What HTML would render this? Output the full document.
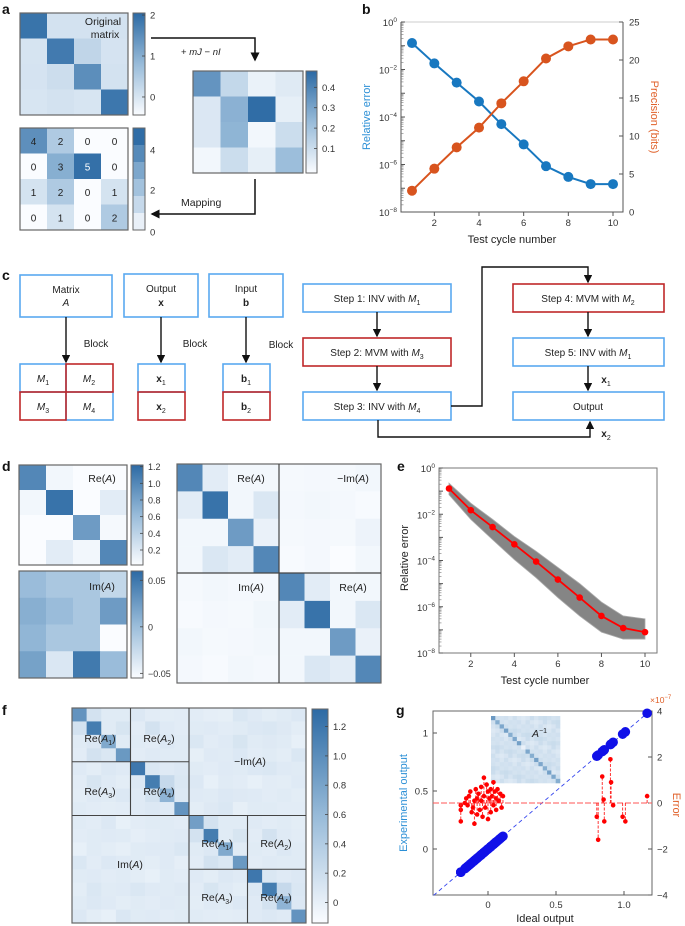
<!DOCTYPE html>
<html><head><meta charset="utf-8"><style>
html,body{margin:0;padding:0;background:#fff}
svg{display:block;font-family:"Liberation Sans",sans-serif}
</style></head><body>
<svg id="fig" width="685" height="926" viewBox="0 0 685 926" xmlns="http://www.w3.org/2000/svg">
<defs>
<linearGradient id="cmap" x1="0" y1="1" x2="0" y2="0">
<stop offset="0" stop-color="#fafcff"/><stop offset="0.5" stop-color="#98bbd9"/><stop offset="1" stop-color="#2c6aa4"/>
</linearGradient>
<marker id="ah" markerWidth="6" markerHeight="6" refX="5" refY="3" orient="auto"><path d="M0,0 L6,3 L0,6 z" fill="#111"/></marker>
</defs>
<g font-weight="bold" font-size="14" fill="#111">
<text x="2" y="14">a</text>
<text x="362" y="14">b</text>
<text x="2" y="280">c</text>
<text x="2" y="471">d</text>
<text x="397" y="471">e</text>
<text x="2" y="715">f</text>
<text x="396" y="715">g</text>
</g>
<g id="pa"></g>
<g font-size="10" fill="#222">
<text x="103" y="25" text-anchor="middle" font-size="10.5">Original</text>
<text x="105" y="38" text-anchor="middle" font-size="10.5">matrix</text>
<path d="M151,38 H255 V60" fill="none" stroke="#111" stroke-width="1.5" marker-end="url(#ah)"/>
<text x="181" y="55" font-size="9.5">+ <tspan font-style="italic">mJ</tspan> − <tspan font-style="italic">nI</tspan></text>
<path d="M255,179 V214 H152" fill="none" stroke="#111" stroke-width="1.5" marker-end="url(#ah)"/>
<text x="181" y="206" font-size="10.5">Mapping</text>
</g>
<g id="pb"></g>
<g font-size="10" fill="#222" text-anchor="middle">
<rect x="20" y="275" width="92" height="42" fill="none" stroke="#5aa9f0" stroke-width="1.6"/>
<text x="66" y="293">Matrix</text><text x="66" y="306" font-style="italic">A</text>
<rect x="124" y="274" width="74" height="43" fill="none" stroke="#5aa9f0" stroke-width="1.6"/>
<text x="161" y="292">Output</text><text x="161" y="306" font-weight="bold">x</text>
<rect x="209" y="274" width="74" height="43" fill="none" stroke="#5aa9f0" stroke-width="1.6"/>
<text x="246" y="292">Input</text><text x="246" y="306" font-weight="bold">b</text>
<line x1="66" y1="317" x2="66" y2="362" stroke="#111" stroke-width="1.4" marker-end="url(#ah)"/>
<line x1="161" y1="317" x2="161" y2="362" stroke="#111" stroke-width="1.4" marker-end="url(#ah)"/>
<line x1="246" y1="317" x2="246" y2="362" stroke="#111" stroke-width="1.4" marker-end="url(#ah)"/>
<text x="96" y="347">Block</text>
<text x="195" y="347">Block</text>
<text x="281" y="348">Block</text>
<rect x="20" y="364" width="46" height="28" fill="none" stroke="#5aa9f0" stroke-width="1.6"/>
<rect x="66" y="392" width="47" height="28" fill="none" stroke="#5aa9f0" stroke-width="1.6"/>
<rect x="66" y="364" width="47" height="28" fill="none" stroke="#c0282a" stroke-width="1.6"/>
<rect x="20" y="392" width="46" height="28" fill="none" stroke="#c0282a" stroke-width="1.6"/>
<text x="43" y="382" font-style="italic">M<tspan font-size="7" dy="3" font-style="normal">1</tspan></text>
<text x="89" y="382" font-style="italic">M<tspan font-size="7" dy="3" font-style="normal">2</tspan></text>
<text x="43" y="410" font-style="italic">M<tspan font-size="7" dy="3" font-style="normal">3</tspan></text>
<text x="89" y="410" font-style="italic">M<tspan font-size="7" dy="3" font-style="normal">4</tspan></text>
<rect x="138" y="364" width="47" height="28" fill="none" stroke="#5aa9f0" stroke-width="1.6"/>
<rect x="138" y="392" width="47" height="28" fill="none" stroke="#c0282a" stroke-width="1.6"/>
<text x="161" y="382" font-weight="bold">x<tspan font-size="7" dy="3" font-weight="normal">1</tspan></text>
<text x="161" y="410" font-weight="bold">x<tspan font-size="7" dy="3" font-weight="normal">2</tspan></text>
<rect x="223" y="364" width="47" height="28" fill="none" stroke="#5aa9f0" stroke-width="1.6"/>
<rect x="223" y="392" width="47" height="28" fill="none" stroke="#c0282a" stroke-width="1.6"/>
<text x="246" y="382" font-weight="bold">b<tspan font-size="7" dy="3" font-weight="normal">1</tspan></text>
<text x="246" y="410" font-weight="bold">b<tspan font-size="7" dy="3" font-weight="normal">2</tspan></text>
<rect x="303" y="284" width="148" height="28" fill="none" stroke="#5aa9f0" stroke-width="1.6"/>
<text x="377" y="302">Step 1: INV with <tspan font-style="italic">M</tspan><tspan font-size="7" dy="3">1</tspan></text>
<rect x="303" y="338" width="148" height="28" fill="none" stroke="#c0282a" stroke-width="1.6"/>
<text x="377" y="356">Step 2: MVM with <tspan font-style="italic">M</tspan><tspan font-size="7" dy="3">3</tspan></text>
<rect x="303" y="392" width="148" height="28" fill="none" stroke="#5aa9f0" stroke-width="1.6"/>
<text x="377" y="410">Step 3: INV with <tspan font-style="italic">M</tspan><tspan font-size="7" dy="3">4</tspan></text>
<rect x="513" y="284" width="151" height="28" fill="none" stroke="#c0282a" stroke-width="1.6"/>
<text x="588" y="302">Step 4: MVM with <tspan font-style="italic">M</tspan><tspan font-size="7" dy="3">2</tspan></text>
<rect x="513" y="338" width="151" height="28" fill="none" stroke="#5aa9f0" stroke-width="1.6"/>
<text x="588" y="356">Step 5: INV with <tspan font-style="italic">M</tspan><tspan font-size="7" dy="3">1</tspan></text>
<rect x="513" y="392" width="151" height="28" fill="none" stroke="#5aa9f0" stroke-width="1.6"/>
<text x="588" y="410">Output</text>
<line x1="377" y1="312" x2="377" y2="336" stroke="#111" stroke-width="1.4" marker-end="url(#ah)"/>
<line x1="377" y1="366" x2="377" y2="390" stroke="#111" stroke-width="1.4" marker-end="url(#ah)"/>
<path d="M451,406 H482 V267 H588 V282" fill="none" stroke="#111" stroke-width="1.4" marker-end="url(#ah)"/>
<line x1="588" y1="312" x2="588" y2="336" stroke="#111" stroke-width="1.4" marker-end="url(#ah)"/>
<line x1="588" y1="366" x2="588" y2="390" stroke="#111" stroke-width="1.4" marker-end="url(#ah)"/>
<path d="M378,420 V437 H590 V422" fill="none" stroke="#111" stroke-width="1.4" marker-end="url(#ah)"/>
<text x="606" y="383" font-weight="bold">x<tspan font-size="7" dy="3" font-weight="normal">1</tspan></text>
<text x="606" y="437" font-weight="bold">x<tspan font-size="7" dy="3" font-weight="normal">2</tspan></text>
</g>
<g id="pd"></g>
<g id="pe"></g>
<g id="pf"></g>
<g id="pg"></g>
</svg>
<script>
// ---------- data ----------
const aOrig=[[1.9,0.05,0.05,0.05],[0.02,1.8,0.3,0.03],[0.03,0.15,1.5,0.05],[0.0,0.05,0.0,1.85]];
const aShift=[[0.35,0.12,0.02,0.05],[0.06,0.26,0.47,0.03],[0.06,0.25,0.0,0.1],[0.0,0.1,0.03,0.22]];
const aMapped=[[4,2,0,0],[0,3,5,0],[1,2,0,1],[0,1,0,2]];
const cycles=[1,2,3,4,5,6,7,8,9,10];
const relErr=[0.13,0.018,0.0028,0.00045,5e-5,7e-6,8.5e-7,3e-7,1.5e-7,1.5e-7];
const precisionBits=[2.8,5.7,8.5,11.1,14.3,17.2,20.2,21.8,22.7,22.7];
const dRe=[[1.0,0.05,0,0],[0.05,1.15,0,0.15],[0,0,0.85,0.03],[0,0.15,0.05,1.0]];
const dIm=[[0.0,-0.01,-0.01,-0.025],[0.01,0.0,-0.01,0.025],[0.005,-0.01,-0.01,-0.06],[0.02,-0.04,0.05,0.0]];
const dBig=[[1.0,0.15,0.05,0.05,0.03,0.04,0.03,0.05],[0.15,1.15,0.05,0.2,0.04,0.05,0.04,0.02],[0.05,0.05,0.85,0.1,0.03,0.04,0.03,0.08],[0.05,0.2,0.15,1.0,0.02,0.04,0.0,0.05],
[0.03,0.05,0.04,0.04,1.0,0.15,0.05,0.05],[0.02,0.04,0.03,0.06,0.15,1.15,0.05,0.2],[0.05,0.03,0.04,0.05,0.05,0.05,0.85,0.1],[0.04,0.02,0.05,0.04,0.05,0.2,0.15,1.0]];
const errMean=[0.13,0.015,0.0028,0.0005,9e-5,1.5e-5,2.5e-6,4e-7,1.2e-7,8e-8];
const errUpper=[0.22,0.03,0.006,0.0011,0.00025,5e-5,1e-5,1.6e-6,4e-7,3e-7];
const errLower=[0.07,0.006,0.0008,0.00011,1.8e-5,2.5e-6,4e-7,8e-8,4e-8,4e-8];
const fMat=[
[.95,.15,.05,.05,.08,.04,.03,.04,.04,.02,.01,.10,.06,.03,.05,.08],
[.15,1.15,.05,.12,.04,.15,.06,.04,.05,.06,.04,.05,.08,.10,.07,.03],
[.05,.08,.75,.05,.05,.04,.08,.05,.10,.04,.06,.12,.05,.07,.05,.00],
[.04,.15,.10,.90,.04,.06,.05,.05,.01,.06,.05,.08,.04,.05,.03,.10],
[.06,.03,.08,.06,1.2,.10,.06,.08,.05,.04,.06,.05,.08,.10,.06,.05],
[.04,.12,.06,.03,.08,1.15,.25,.10,.08,.00,.05,.04,.00,.04,.03,.06],
[.03,.06,.05,.08,.06,.15,.65,.08,.06,.05,.08,.07,.06,.04,.05,.03],
[.05,.04,.03,.04,.06,.08,.06,.95,.03,.07,.10,.01,.05,.05,.04,.04],
[.05,.04,.08,.00,.04,.05,.05,.04,.85,.15,.05,.05,.06,.04,.05,.03],
[.04,.05,.06,.05,.02,.04,.05,.06,.15,1.15,.05,.12,.04,.15,.06,.04],
[.00,.05,.03,.01,.05,.06,.06,.10,.05,.08,.75,.05,.05,.04,.08,.05],
[.10,.04,.08,.06,.05,.03,.06,.02,.04,.15,.10,.90,.04,.06,.05,.05],
[.05,.06,.04,.05,.03,.00,.05,.04,.06,.03,.08,.06,1.2,.10,.06,.08],
[.03,.10,.05,.06,.10,.06,.05,.07,.04,.12,.06,.03,.08,1.15,.25,.10],
[.05,.08,.06,.03,.05,.04,.06,.05,.03,.06,.05,.08,.06,.15,.65,.08],
[.08,.03,.00,.10,.05,.06,.04,.05,.05,.04,.03,.04,.06,.08,.06,.95]];
const invDiag=[.85,.7,.75,.8,.7,.75,.8,.1,.75,.7,.8,.75,.7,.8,.75,.7];
const invOff=[.22,.28,.2,.25,.3,.18,.24,.27,.21,.26,.23,.29,.2,.25,.22,.27];
const gClusterX=[-0.2,-0.2,-0.2,-0.17,-0.16,-0.15,-0.14,-0.13,-0.12,-0.11,-0.1,-0.1,-0.09,-0.08,-0.08,-0.07,-0.06,-0.05,-0.05,-0.04,-0.03,-0.03,-0.02,-0.01,0.0,0.0,0.01,0.02,0.02,0.03,0.04,0.04,0.05,0.06,0.06,0.07,0.08,0.09,0.1,0.11];
const gClusterErr=[-0.1,-0.3,-0.8,0.0,0.2,-0.1,0.3,0.5,-0.4,-0.2,0.1,-0.9,0.6,0.2,-0.5,0.4,-0.3,0.7,0.1,-0.6,1.1,0.3,-0.2,0.8,0.5,-0.7,0.2,0.6,-0.4,0.3,0.9,-0.1,0.5,0.2,-0.3,0.6,0.1,0.4,-0.2,0.3];
const gBigX=[0.80,0.81,0.84,0.85,0.855,0.90,0.905,0.92,0.99,1.01,1.17];
const gBigErr=[-0.6,-1.6,1.15,0.15,-0.8,1.9,0.9,-0.1,-0.6,-0.8,0.3];

// ---------- helpers ----------
const NS="http://www.w3.org/2000/svg";
function mk(parent,tag,attrs,txt){const e=document.createElementNS(NS,tag);for(const k in attrs)e.setAttribute(k,attrs[k]);if(txt!==undefined)e.textContent=txt;parent.appendChild(e);return e;}
function lerp(a,b,t){return a+(b-a)*t;}
function cmap(t){t=Math.max(0,Math.min(1,t));const s=[[250,252,255],[152,187,217],[44,106,164]];let c;if(t<0.5){const u=t/0.5;c=s[0].map((v,i)=>lerp(v,s[1][i],u));}else{const u=(t-0.5)/0.5;c=s[1].map((v,i)=>lerp(v,s[2][i],u));}return `rgb(${c.map(Math.round).join(',')})`;}
function heat(parent,M,x0,y0,w,h,vmin,vmax,name,border){
  const n=M.length,m=M[0].length,cw=w/m,ch=h/n;
  for(let r=0;r<n;r++)for(let c=0;c<m;c++){
    const el=mk(parent,'rect',{x:x0+c*cw,y:y0+r*ch,width:cw+0.3,height:ch+0.3,fill:cmap((M[r][c]-vmin)/(vmax-vmin))});
    
    
  }
  if(border!==false){const b=mk(parent,'rect',{x:x0,y:y0,width:w,height:h,fill:'none',stroke:'#666','stroke-width':1.2});
  
  }
}
function cbar(parent,x,y,w,h,vmin,vmax,ticks,labels,name,fs){
  const r=mk(parent,'rect',{x:x,y:y,width:w,height:h,fill:'url(#cmap)',stroke:'#666','stroke-width':1});
  
  
  ticks.forEach((t,i)=>{const yy=y+h-(t-vmin)/(vmax-vmin)*h;
    mk(parent,'line',{x1:x+w-3,x2:x+w,y1:yy,y2:yy,stroke:'#444','stroke-width':0.8});
    const tl=mk(parent,'text',{x:x+w+5,y:yy+3.5,'font-size':fs||9.5,fill:'#333'},labels[i]);
    
    });
}
function lbl(parent,x,y,s,name,extra){const t=mk(parent,'text',Object.assign({x:x,y:y,'font-size':10.5,fill:'#222'},extra||{}),s);
  
  return t;}
function sup(parent,x,y,exp,anchor,fs){const t=mk(parent,'text',{x:x,y:y,'font-size':fs||9.5,fill:'#333','text-anchor':anchor||'end'});
  
  
  const a=document.createElementNS(NS,'tspan');a.textContent='10';t.appendChild(a);
  const b=document.createElementNS(NS,'tspan');b.setAttribute('font-size','6.5');b.setAttribute('dy','-4');b.textContent=exp;t.appendChild(b);}

// ---------- panel a ----------
const pa=document.getElementById('pa');
heat(pa,aOrig,20,13,108,102,-0.44,2.05,'original-matrix');
cbar(pa,133,13,12,102,-0.44,2.05,[2,1,0],['2','1','0'],'colorbar-original');
heat(pa,aShift,193,71,110,102,-0.02,0.48,'shifted-matrix');
cbar(pa,306,71,11,102,-0.02,0.48,[0.4,0.3,0.2,0.1],['0.4','0.3','0.2','0.1'],'colorbar-shifted');
heat(pa,aMapped,20,128,108,102,0,5.2,'mapped-matrix');
aMapped.forEach((row,r)=>row.forEach((v,c)=>{lbl(pa,20+c*27+13.5,128+r*25.5+17,String(v),'mapped-value',{'text-anchor':'middle','font-size':10,fill:v===5?'#fff':'#222'});}));
const cbm=mk(pa,'g',{});
for(let k=0;k<6;k++){const e=mk(cbm,'rect',{x:133,y:230-(k+1)*17,width:12,height:17,fill:cmap((k+0.5)/5.6)});

}
mk(cbm,'rect',{x:133,y:128,width:12,height:102,fill:'none',stroke:'#666'});
[[4,150],[2,190],[0,232]].forEach(([v,yy])=>{lbl(pa,150,yy+3.5,String(v),'colorbar-mapped-tick-label',{'font-size':9.5,fill:'#333'});});

// ---------- panel b ----------
const pb=document.getElementById('pb');
const bx0=401,bx1=623,by0=22,by1=212;
const xb=i=>412+(i-1)*(613-412)/9;
const yb=v=>by0+(-Math.log10(v))/8*(by1-by0);
const yp=p=>by1-p/25*(by1-by0);
const frame=mk(pb,'path',{d:`M${bx0},${by0} V${by1} H${bx1} V${by0}`,fill:'none',stroke:'#555','stroke-width':1});


mk(pb,'line',{x1:bx0,x2:bx1,y1:by0,y2:by0,stroke:'#bbb','stroke-width':0.8});
for(let e=0;e<=8;e++){const yy=yb(Math.pow(10,-e));mk(pb,'line',{x1:bx0,x2:bx0+4,y1:yy,y2:yy,stroke:'#555'});if(e%2===0)sup(pb,bx0-4,yy+4,e===0?'0':'−'+e);
 if(e<8)for(let k=2;k<10;k++){const y2=yb(k*Math.pow(10,-e-1));mk(pb,'line',{x1:bx0,x2:bx0+2.5,y1:y2,y2:y2,stroke:'#777','stroke-width':0.6});}}
[0,5,10,15,20,25].forEach(p=>{const yy=yp(p);mk(pb,'line',{x1:bx1-4,x2:bx1,y1:yy,y2:yy,stroke:'#555'});lbl(pb,bx1+6,yy+3.5,String(p),'right-tick-label',{'font-size':9.5,fill:'#333'});});
[2,4,6,8,10].forEach(c=>{mk(pb,'line',{x1:xb(c),x2:xb(c),y1:by1,y2:by1+4,stroke:'#555'});lbl(pb,xb(c),by1+14,String(c),'x-tick-label',{'font-size':9.5,fill:'#333','text-anchor':'middle'});});
lbl(pb,512,243,'Test cycle number','x-axis-title',{'text-anchor':'middle','font-size':11});
lbl(pb,0,0,'Relative error','y-axis-title-left',{'text-anchor':'middle','font-size':11,fill:'#2b8fd6',transform:'translate(370,117) rotate(-90)'});
lbl(pb,0,0,'Precision (bits)','y-axis-title-right',{'text-anchor':'middle','font-size':11,fill:'#e0612a',transform:'translate(651,117) rotate(90)'});
const bl=mk(pb,'polyline',{points:cycles.map((c,i)=>xb(c)+','+yb(relErr[i])).join(' '),fill:'none',stroke:'#1878c0','stroke-width':2});


const ol=mk(pb,'polyline',{points:cycles.map((c,i)=>xb(c)+','+yp(precisionBits[i])).join(' '),fill:'none',stroke:'#d8541e','stroke-width':2});


cycles.forEach((c,i)=>{const p=mk(pb,'circle',{cx:xb(c),cy:yb(relErr[i]),r:5,fill:'#1878c0'});


const q=mk(pb,'circle',{cx:xb(c),cy:yp(precisionBits[i]),r:5,fill:'#d8541e'});

});

// ---------- panel d ----------
const pd=document.getElementById('pd');
heat(pd,dRe,19,465,108,100,0,1.22,'re-a-small');
cbar(pd,131,465,12,100,0.02,1.22,[1.2,1.0,0.8,0.6,0.4,0.2],['1.2','1.0','0.8','0.6','0.4','0.2'],'colorbar-re',9);
heat(pd,dIm,19,571,108,107,-0.06,0.062,'im-a-small');
cbar(pd,131,571,12,107,-0.055,0.06,[0.05,0,-0.05],['0.05','0','−0.05'],'colorbar-im',9);
heat(pd,dBig,177,464,204,219,0,1.22,'complex-block-matrix');
mk(pd,'line',{x1:279,x2:279,y1:464,y2:683,stroke:'#444','stroke-width':1.2});
mk(pd,'line',{x1:177,x2:381,y1:573,y2:573,stroke:'#444','stroke-width':1.2});
// ---------- panel e ----------
const pe=document.getElementById('pe');
const ex0=439,ex1=657,ey0=468,ey1=653;
const xe=i=>449+(i-1)*(645-449)/9;
const ye=v=>ey0+(-Math.log10(v))/8*(ey1-ey0);
const ef=mk(pe,'rect',{x:ex0,y:ey0,width:ex1-ex0,height:ey1-ey0,fill:'none',stroke:'#777'});


for(let e=0;e<=8;e++){const yy=ye(Math.pow(10,-e));mk(pe,'line',{x1:ex0,x2:ex0+4,y1:yy,y2:yy,stroke:'#555'});if(e%2===0)sup(pe,ex0-4,yy+4,e===0?'0':'−'+e);
 if(e<8)for(let k=2;k<10;k++){const y2=ye(k*Math.pow(10,-e-1));mk(pe,'line',{x1:ex0,x2:ex0+2.5,y1:y2,y2:y2,stroke:'#777','stroke-width':0.6});}}
[2,4,6,8,10].forEach(c=>{mk(pe,'line',{x1:xe(c),x2:xe(c),y1:ey1,y2:ey1+4,stroke:'#555'});lbl(pe,xe(c),ey1+14,String(c),'x-tick-label',{'font-size':9.5,fill:'#333','text-anchor':'middle'});});
lbl(pe,545,684,'Test cycle number','x-axis-title',{'text-anchor':'middle','font-size':11});
lbl(pe,0,0,'Relative error','y-axis-title',{'text-anchor':'middle','font-size':11,transform:'translate(408,558) rotate(-90)'});
const band=mk(pe,'polygon',{points:cycles.map((c,i)=>xe(c)+','+ye(errUpper[i])).concat(cycles.slice().reverse().map((c,j)=>xe(c)+','+ye(errLower[9-j]))).join(' '),fill:'#858585',stroke:'#aaa','stroke-width':0.8});


const rl=mk(pe,'polyline',{points:cycles.map((c,i)=>xe(c)+','+ye(errMean[i])).join(' '),fill:'none',stroke:'#f00','stroke-width':1.8});


cycles.forEach((c,i)=>{const p=mk(pe,'circle',{cx:xe(c),cy:ye(errMean[i]),r:3.3,fill:'#f00'});

});

// ---------- panel f ----------
const pf=document.getElementById('pf');
heat(pf,fMat,72,708,234,215,-0.14,1.32,'block-matrix-f');
const fw=234/16,fh=215/16;
[[72+8*fw,708,72+8*fw,923],[72,708+8*fh,306,708+8*fh],[72+4*fw,708,72+4*fw,708+8*fh],[72,708+4*fh,72+8*fw,708+4*fh],[72+12*fw,708+8*fh,72+12*fw,923],[72+8*fw,708+12*fh,306,708+12*fh]].forEach(l=>{mk(pf,'line',{x1:l[0],y1:l[1],x2:l[2],y2:l[3],stroke:'#444','stroke-width':1.1});});
cbar(pf,312,709,16,214,-0.14,1.32,[1.2,1.0,0.8,0.6,0.4,0.2,0],['1.2','1.0','0.8','0.6','0.4','0.2','0'],'colorbar-f',9.5);

// text labels for d and f
function reLabel(parent,x,y,pre,sub,name){const t=mk(parent,'text',{x:x,y:y,'font-size':10.5,fill:'#222','text-anchor':'middle'});


const a=document.createElementNS(NS,'tspan');a.textContent=pre+'(';t.appendChild(a);
const b=document.createElementNS(NS,'tspan');b.setAttribute('font-style','italic');b.textContent='A';t.appendChild(b);
if(sub){const s=document.createElementNS(NS,'tspan');s.setAttribute('font-size','7');s.setAttribute('dy','3');s.textContent=sub;t.appendChild(s);const s2=document.createElementNS(NS,'tspan');s2.setAttribute('dy','-3');s2.textContent=')';t.appendChild(s2);}
else{const c=document.createElementNS(NS,'tspan');c.textContent=')';t.appendChild(c);}}
reLabel(pd,102,482,'Re','', 're-a-label');
reLabel(pd,102,590,'Im','', 'im-a-label');
reLabel(pd,251,482,'Re','', 'big-re-a-label');
reLabel(pd,353,482,'−Im','', 'big-neg-im-a-label');
reLabel(pd,251,591,'Im','', 'big-im-a-label');
reLabel(pd,353,591,'Re','', 'big-re-a-label-2');
reLabel(pf,100,742,'Re','1','f-re-a1');
reLabel(pf,159,742,'Re','2','f-re-a2');
reLabel(pf,100,795,'Re','3','f-re-a3');
reLabel(pf,159,795,'Re','4','f-re-a4');
reLabel(pf,250,765,'−Im','','f-neg-im-a');
reLabel(pf,130,868,'Im','','f-im-a');
reLabel(pf,217,847,'Re','1','f-re-a1-b');
reLabel(pf,276,847,'Re','2','f-re-a2-b');
reLabel(pf,217,901,'Re','3','f-re-a3-b');
reLabel(pf,276,901,'Re','4','f-re-a4-b');

// ---------- panel g ----------
const pg=document.getElementById('pg');
const gx0=433,gx1=652,gy0=711,gy1=895;
const xg=v=>488+v*136, yg=v=>849-v*116, yerr=e=>803-e*23;
const gf=mk(pg,'rect',{x:gx0,y:gy0,width:gx1-gx0,height:gy1-gy0,fill:'none',stroke:'#666'});


const inv=[];for(let r=0;r<16;r++){inv.push([]);for(let c=0;c<16;c++)inv[r].push(r===c?invDiag[r]:invOff[(r*7+c*3)%16]);}
heat(pg,inv,491,716,69,67,0,1.2,'inverse-inset',false);
const it=mk(pg,'text',{x:532,y:737,'font-size':10.5,fill:'#222','font-style':'italic'});


it.innerHTML='A<tspan font-size="7" dy="-4" font-style="normal">−1</tspan>';
[[0,'0'],[0.5,'0.5'],[1,'1']].forEach(([v,s])=>{mk(pg,'line',{x1:gx0,x2:gx0+4,y1:yg(v),y2:yg(v),stroke:'#555'});lbl(pg,gx0-5,yg(v)+3.5,s,'left-tick-label',{'font-size':9.5,fill:'#333','text-anchor':'end'});});
[[0,'0'],[0.5,'0.5'],[1,'1.0']].forEach(([v,s])=>{mk(pg,'line',{x1:xg(v),x2:xg(v),y1:gy1-4,y2:gy1,stroke:'#555'});lbl(pg,xg(v),gy1+13,s,'x-tick-label',{'font-size':9.5,fill:'#333','text-anchor':'middle'});});
[[4,'4'],[2,'2'],[0,'0'],[-2,'−2'],[-4,'−4']].forEach(([v,s])=>{mk(pg,'line',{x1:gx1-4,x2:gx1,y1:yerr(v),y2:yerr(v),stroke:'#555'});lbl(pg,gx1+5,yerr(v)+3.5,s,'right-tick-label',{'font-size':9.5,fill:'#333'});});
const ex=mk(pg,'text',{x:650,y:703,'font-size':8.5,fill:'#e0612a'});


ex.innerHTML='×10<tspan font-size="6" dy="-4">−7</tspan>';
lbl(pg,545,922,'Ideal output','x-axis-title',{'text-anchor':'middle','font-size':11});
lbl(pg,0,0,'Experimental output','y-axis-title-left',{'text-anchor':'middle','font-size':11,fill:'#2b8fd6',transform:'translate(407,803) rotate(-90)'});
lbl(pg,0,0,'Error','y-axis-title-right',{'text-anchor':'middle','font-size':11,fill:'#e0612a',transform:'translate(673,805) rotate(90)'});
const diag=mk(pg,'line',{x1:xg(-0.4),y1:yg(-0.4),x2:xg(1.2),y2:yg(1.2),stroke:'#3344ee','stroke-width':0.9,'stroke-dasharray':'4,3'});


const zl=mk(pg,'line',{x1:gx0,x2:gx1,y1:yerr(0),y2:yerr(0),stroke:'#ff5555','stroke-width':1,'stroke-dasharray':'6,2'});


const allX=gClusterX.concat(gBigX), allE=gClusterErr.concat(gBigErr);
allX.forEach((x,i)=>{const s=mk(pg,'line',{x1:xg(x),x2:xg(x),y1:yerr(0),y2:yerr(allE[i]),stroke:'#f22','stroke-width':0.9,'stroke-dasharray':'3,1.5'});


const p=mk(pg,'circle',{cx:xg(x),cy:yerr(allE[i]),r:2.3,fill:'#f00'});

});
allX.forEach(x=>{const p=mk(pg,'circle',{cx:xg(x),cy:yg(x),r:4.8,fill:'#1010e8'});

});
</script>
</body></html>
